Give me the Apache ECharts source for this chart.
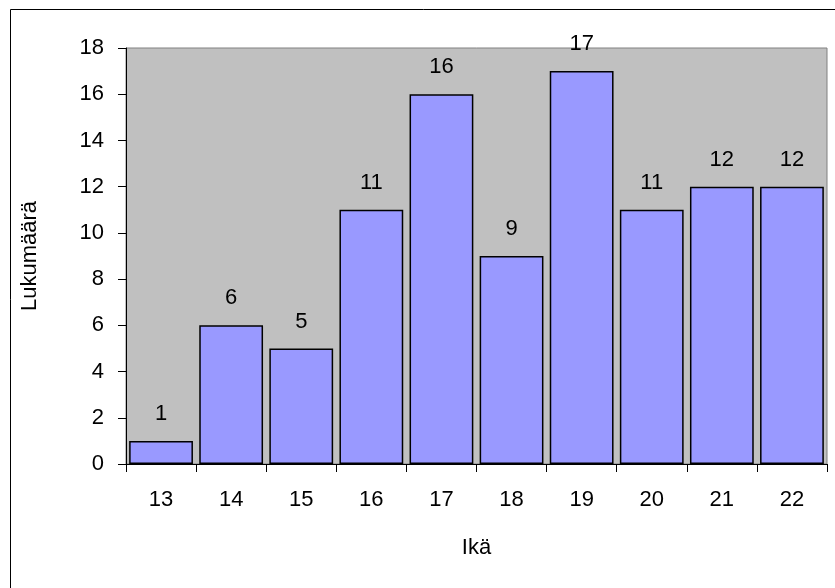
<!DOCTYPE html>
<html>
<head>
<meta charset="utf-8">
<script src="https://cdn.jsdelivr.net/npm/echarts@6/dist/echarts.min.js"></script>
<style>
  html, body { margin: 0; padding: 0; background: #ffffff; }
  #chart { width: 835px; height: 588px; }
</style>
</head>
<body>
<div id="chart"></div>
<script>
// Age groups and their counts
const ages = ['13', '14', '15', '16', '17', '18', '19', '20', '21', '22'];
const counts = [1, 6, 5, 11, 16, 9, 17, 11, 12, 12];
const yTicks = [0, 2, 4, 6, 8, 10, 12, 14, 16, 18];

const FONT = '"Liberation Sans", Arial, sans-serif';
const SIZE = 22;
const chart = echarts.init(document.getElementById('chart'), null, { renderer: 'canvas' });

chart.setOption({
  backgroundColor: '#ffffff',
  animation: false,
  graphic: [{
    type: 'rect',
    left: 8, top: 7,
    shape: { x: 0.5, y: 0.5, width: 900, height: 700 },
    style: { fill: 'none', stroke: '#000000', lineWidth: 1 },
    silent: true,
    z: 100
  }],
  grid: {
    left: 126, top: 48, right: 8, bottom: 124,
    show: true,
    backgroundColor: '#C0C0C0',
    borderColor: '#808080',
    borderWidth: 1
  },
  xAxis: {
    type: 'category',
    data: ages,
    name: 'Ikä',
    nameLocation: 'middle',
    nameGap: 73,
    nameTextStyle: { fontFamily: FONT, fontSize: SIZE, color: '#000' },
    axisLine: { lineStyle: { color: '#000', width: 1 } },
    axisTick: { show: true, length: 8, lineStyle: { color: '#000' } },
    axisLabel: { fontFamily: FONT, fontSize: SIZE, color: '#000', margin: 25 },
    splitLine: { show: false }
  },
  yAxis: {
    type: 'value',
    min: yTicks[0],
    max: yTicks[yTicks.length - 1],
    interval: 2,
    name: 'Lukumäärä',
    nameLocation: 'middle',
    nameGap: 85,
    nameTextStyle: { fontFamily: FONT, fontSize: SIZE, color: '#000' },
    axisLine: { show: true, lineStyle: { color: '#000', width: 1 } },
    axisTick: { show: true, length: 8, lineStyle: { color: '#000' } },
    axisLabel: { fontFamily: FONT, fontSize: SIZE, color: '#000', margin: 22 },
    splitLine: { show: false }
  },
  series: [{
    type: 'bar',
    data: counts,
    barCategoryGap: '9%',
    itemStyle: { color: '#9999FF', borderColor: '#000000', borderWidth: 1.5 },
    label: {
      show: true,
      position: 'top',
      distance: 16,
      fontFamily: FONT,
      fontSize: SIZE,
      color: '#000'
    }
  }]
});
</script>
</body>
</html>
